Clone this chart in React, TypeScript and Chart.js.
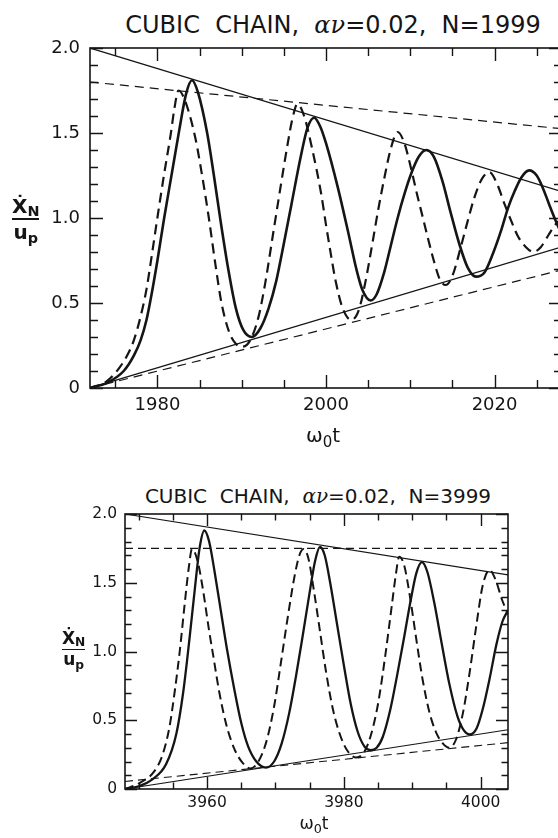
import React, { useEffect, useRef } from "react";
import { Chart, registerables } from "chart.js";
Chart.register(...registerables);

// ---------- Top panel: N = 1999 ----------
const topSolidT = [1972, 1974, 1976, 1977.2, 1978.0, 1978.7, 1979.3, 1980.0, 1980.8, 1981.7, 1982.6, 1983.4, 1984.1, 1984.8, 1985.9, 1986.7, 1987.5, 1988.4, 1989.3, 1990.2, 1991.2, 1992.2, 1993.2, 1994.1, 1995.0, 1995.9, 1997.0, 1997.8, 1998.6, 1999.3, 2000.0, 2001.4, 2002.75, 2003.6, 2004.3, 2005.3, 2006.0, 2006.9, 2007.7, 2008.5, 2009.3, 2010.1, 2011.0, 2011.9, 2012.8, 2013.8, 2014.8, 2015.8, 2016.8, 2017.8, 2018.8, 2019.8, 2020.8, 2021.6, 2022.4, 2023.2, 2024.1, 2025.0, 2025.7, 2026.4, 2027.2, 2028];
const topSolidV = [0, 0.03, 0.1, 0.19, 0.28, 0.4, 0.55, 0.75, 1.0, 1.26, 1.52, 1.73, 1.81, 1.74, 1.5, 1.25, 0.98, 0.7, 0.47, 0.34, 0.3, 0.35, 0.47, 0.63, 0.85, 1.08, 1.36, 1.53, 1.59, 1.54, 1.44, 1.18, 0.89, 0.7, 0.58, 0.515, 0.55, 0.68, 0.84, 1.0, 1.14, 1.26, 1.36, 1.40, 1.36, 1.22, 1.03, 0.85, 0.71, 0.655, 0.68, 0.79, 0.93, 1.06, 1.16, 1.24, 1.28, 1.25, 1.18, 1.09, 0.99, 0.90];
const topDashT = [1972, 1974, 1975.5, 1976.5, 1977.2, 1978.0, 1978.7, 1979.3, 1979.9, 1980.8, 1981.6, 1982.0, 1982.5, 1983.2, 1984.5, 1985.3, 1986.1, 1986.9, 1987.6, 1988.5, 1989.3, 1990.1, 1991.0, 1992.0, 1992.8, 1993.7, 1994.6, 1995.5, 1996.0, 1996.6, 1997.4, 1998.3, 1999.4, 2000.0, 2000.6, 2001.1, 2001.9, 2003.0, 2003.9, 2004.7, 2005.5, 2006.2, 2006.9, 2007.7, 2008.5, 2009.3, 2010.1, 2010.8, 2011.5, 2012.2, 2012.9, 2013.5, 2014.2, 2015.0, 2016.05, 2016.8, 2017.6, 2018.5, 2019.4, 2020.3, 2021.2, 2022.0, 2022.8, 2023.7, 2024.6, 2025.5, 2026.4, 2027.2, 2028];
const topDashV = [0, 0.04, 0.12, 0.2, 0.28, 0.42, 0.58, 0.77, 0.97, 1.26, 1.5, 1.64, 1.75, 1.7, 1.47, 1.25, 1.0, 0.72, 0.5, 0.33, 0.26, 0.243, 0.28, 0.42, 0.62, 0.9, 1.18, 1.45, 1.58, 1.67, 1.6, 1.42, 1.15, 0.96, 0.78, 0.64, 0.48, 0.40, 0.46, 0.63, 0.85, 1.05, 1.23, 1.41, 1.506, 1.44, 1.29, 1.14, 1.0, 0.86, 0.73, 0.64, 0.606, 0.66, 0.84, 0.98, 1.12, 1.23, 1.27, 1.2, 1.08, 0.98, 0.89, 0.83, 0.80, 0.83, 0.9, 0.96, 1.0];
const topEnvT = [1972, 2028];
const topUpperSolidV = [2.0, 1.155];
const topLowerSolidV = [0.0, 0.83];
const topUpperDashV = [1.8, 1.525];
const topLowerDashV = [0.0, 0.695];
const topXTicks = [1980, 2000, 2020];
const topXRange = [1972, 2028];

// ---------- Bottom panel: N = 3999 ----------
const botSolidT = [3948, 3950, 3952, 3954, 3955.5, 3956.5, 3957.4, 3958.2, 3958.9, 3959.6, 3960.3, 3961.1, 3962.0, 3962.9, 3964.0, 3965.0, 3966.0, 3967.2, 3968.6, 3969.8, 3970.9, 3972.0, 3973.0, 3974.0, 3975.0, 3975.8, 3976.5, 3977.2, 3978.0, 3979.0, 3980.0, 3981.0, 3982.0, 3983.0, 3983.9, 3984.8, 3985.7, 3986.8, 3987.8, 3988.8, 3989.8, 3990.6, 3991.4, 3992.2, 3993.2, 3994.3, 3995.4, 3996.6, 3997.5, 3998.4, 3999.4, 4000.3, 4001.3, 4002.3, 4003.2, 4004];
const botSolidV = [0, 0.02, 0.07, 0.18, 0.4, 0.7, 1.08, 1.45, 1.75, 1.88, 1.80, 1.58, 1.30, 1.02, 0.72, 0.48, 0.31, 0.2, 0.156, 0.2, 0.33, 0.55, 0.82, 1.12, 1.43, 1.66, 1.76, 1.70, 1.50, 1.20, 0.90, 0.62, 0.42, 0.31, 0.282, 0.30, 0.38, 0.58, 0.83, 1.1, 1.38, 1.57, 1.65, 1.58, 1.36, 1.06, 0.77, 0.53, 0.43, 0.397, 0.44, 0.58, 0.8, 1.05, 1.22, 1.30];
const botDashT = [3948, 3950, 3952.3, 3953.5, 3954.5, 3955.3, 3956.0, 3956.8, 3957.3, 3957.8, 3958.6, 3959.4, 3960.3, 3960.9, 3961.8, 3962.8, 3964.0, 3965.2, 3966.3, 3967.5, 3968.7, 3969.8, 3970.8, 3971.8, 3972.8, 3973.5, 3974.1, 3974.8, 3975.6, 3976.5, 3977.4, 3978.4, 3979.4, 3980.5, 3981.8, 3983.0, 3984.0, 3985.0, 3986.0, 3987.0, 3987.6, 3988.1, 3988.8, 3989.6, 3990.5, 3991.5, 3992.5, 3993.5, 3994.5, 3995.4, 3996.4, 3997.4, 3998.4, 3999.4, 4000.3, 4001.3, 4002.2, 4003.1, 4004];
const botDashV = [0, 0.04, 0.13, 0.25, 0.45, 0.72, 1.0, 1.38, 1.6, 1.745, 1.66, 1.45, 1.15, 0.97, 0.7, 0.47, 0.29, 0.19, 0.149, 0.2, 0.35, 0.6, 0.92, 1.25, 1.55, 1.70, 1.745, 1.68, 1.45, 1.15, 0.85, 0.58, 0.4, 0.28, 0.229, 0.27, 0.4, 0.62, 0.95, 1.33, 1.56, 1.69, 1.63, 1.42, 1.12, 0.8, 0.56, 0.41, 0.33, 0.30, 0.36, 0.55, 0.85, 1.2, 1.48, 1.593, 1.52, 1.38, 1.27];
const botEnvT = [3948, 4004];
const botUpperSolidV = [2.0, 1.557];
const botLowerSolidV = [0.0, 0.431];
const botUpperDashV = [1.75, 1.75];
const botLowerDashV = [0.055, 0.337];
const botXTicks = [3960, 3980, 4000];
const botXRange = [3948, 4004];

// ---------- shared axis ticks ----------
const yTickValues = [0, 0.5, 1.0, 1.5, 2.0];
const yTickLabels = ["0", "0.5", "1.0", "1.5", "2.0"];
const yRange = [0, 2];

const INK = "#151515";
const FONT = "'DejaVu Sans', 'Liberation Sans', sans-serif";

const pts = (xs: number[], ys: number[]) => xs.map((x, i) => ({ x, y: ys[i] }));

const framePlugin = {
  id: "frame",
  afterDatasetsDraw(chart: any, _a: any, opts: any) {
    const { ctx, chartArea: a } = chart;
    const xs = chart.scales.x;
    const ys = chart.scales.y;
    ctx.save();
    ctx.strokeStyle = INK;
    ctx.lineWidth = opts.frameWidth;
    ctx.strokeRect(a.left, a.top, a.right - a.left, a.bottom - a.top);
    ctx.lineWidth = opts.tickWidth;
    ctx.beginPath();
    const nY = Math.round((ys.max - ys.min) / opts.yMinor);
    for (let i = 0; i <= nY; i++) {
      const v = ys.min + i * opts.yMinor;
      const major = Math.abs(v / opts.yMajor - Math.round(v / opts.yMajor)) < 1e-6;
      const len = major ? opts.majorLen : opts.minorLen;
      const py = Math.round(ys.getPixelForValue(v)) + 0.5;
      ctx.moveTo(a.left, py);
      ctx.lineTo(a.left + len, py);
      ctx.moveTo(a.right, py);
      ctx.lineTo(a.right - len, py);
    }
    const start = Math.ceil(xs.min / opts.xMinor) * opts.xMinor;
    for (let v = start; v <= xs.max + 1e-9; v += opts.xMinor) {
      const major = Math.abs(v / opts.xMajor - Math.round(v / opts.xMajor)) < 1e-6;
      const len = major ? opts.majorLen : opts.minorLen;
      const px = Math.round(xs.getPixelForValue(v)) + 0.5;
      ctx.moveTo(px, a.bottom);
      ctx.lineTo(px, a.bottom - len);
      ctx.moveTo(px, a.top);
      ctx.lineTo(px, a.top + len);
    }
    ctx.stroke();
    ctx.restore();
  },
};

interface PanelSpec {
  solidT: number[]; solidV: number[];
  dashT: number[]; dashV: number[];
  envT: number[];
  upperSolid: number[]; lowerSolid: number[];
  upperDash: number[]; lowerDash: number[];
  xTicks: number[]; xRange: number[];
  padTop: number; padRight: number;
  yAxisWidth: number; xAxisHeight: number;
  tickFont: number; yPad: number; xPad: number;
  majorLen: number; minorLen: number;
  curveWidth: number; dashWidth: number; envWidth: number;
  dash: number[]; envDash: number[];
}

function Panel({ spec, left, top, width, height }: { spec: PanelSpec; left: number; top: number; width: number; height: number }) {
  const ref = useRef<HTMLCanvasElement | null>(null);
  useEffect(() => {
    const s = spec;
    const line = (data: any, w: number, dash: number[] | undefined, smooth: boolean) => ({
      data,
      borderColor: INK,
      borderWidth: w,
      borderDash: dash || [],
      pointRadius: 0,
      fill: false,
      tension: 0,
      cubicInterpolationMode: smooth ? "monotone" : "default",
      borderCapStyle: "butt",
      borderJoinStyle: "round",
    });
    const chart = new Chart(ref.current as HTMLCanvasElement, {
      type: "line",
      data: {
        datasets: [
          line(pts(s.envT, s.upperSolid), s.envWidth, undefined, false),
          line(pts(s.envT, s.lowerSolid), s.envWidth, undefined, false),
          line(pts(s.envT, s.upperDash), s.envWidth, s.envDash, false),
          line(pts(s.envT, s.lowerDash), s.envWidth, s.envDash, false),
          line(pts(s.dashT, s.dashV), s.dashWidth, s.dash, true),
          line(pts(s.solidT, s.solidV), s.curveWidth, undefined, true),
        ] as any,
      },
      options: {
        responsive: false,
        animation: false,
        events: [],
        layout: { padding: { top: s.padTop, right: s.padRight, left: 0, bottom: 0 } },
        plugins: {
          legend: { display: false },
          tooltip: { enabled: false },
          title: { display: false },
          frame: {
            frameWidth: 1.6, tickWidth: 1.4,
            yMinor: 0.1, yMajor: 0.5, xMinor: 5, xMajor: 20,
            majorLen: s.majorLen, minorLen: s.minorLen,
          },
        } as any,
        scales: {
          x: {
            type: "linear",
            min: s.xRange[0],
            max: s.xRange[1],
            afterFit: (sc: any) => { sc.height = s.xAxisHeight; },
            afterBuildTicks: (sc: any) => { sc.ticks = s.xTicks.map((v) => ({ value: v })); },
            grid: { display: false, drawTicks: false },
            border: { display: false },
            ticks: {
              autoSkip: false, maxRotation: 0, padding: s.xPad, color: INK,
              font: { family: FONT, size: s.tickFont },
              callback: (v: any) => String(v),
            },
          },
          y: {
            type: "linear",
            min: yRange[0],
            max: yRange[1],
            afterFit: (sc: any) => { sc.width = s.yAxisWidth; },
            afterBuildTicks: (sc: any) => { sc.ticks = yTickValues.map((v) => ({ value: v })); },
            grid: { display: false, drawTicks: false },
            border: { display: false },
            ticks: {
              padding: s.yPad, color: INK,
              font: { family: FONT, size: s.tickFont },
              callback: (v: any) => {
                const i = yTickValues.findIndex((t) => Math.abs(t - Number(v)) < 1e-9);
                return i >= 0 ? yTickLabels[i] : "";
              },
            },
          },
        },
      } as any,
      plugins: [framePlugin as any],
    });
    return () => chart.destroy();
  }, []);
  return (
    <canvas
      ref={ref}
      width={width}
      height={height}
      style={{ position: "absolute", left, top, width, height }}
    />
  );
}

function Frac({ left, top, size }: { left: number; top: number; size: number }) {
  return (
    <div style={{ position: "absolute", left, top, fontFamily: FONT, fontWeight: "bold", color: INK, lineHeight: 1, textAlign: "center" }}>
      <div style={{ fontSize: size, paddingBottom: size * 0.12, whiteSpace: "nowrap" }}>
        Ẋ<span style={{ fontSize: size * 0.72, position: "relative", top: size * 0.14 }}>N</span>
      </div>
      <div style={{ borderTop: `${Math.max(1.5, size * 0.1)}px solid ${INK}`, paddingTop: size * 0.08, fontSize: size, whiteSpace: "nowrap" }}>
        u<span style={{ fontSize: size * 0.72, position: "relative", top: size * 0.2 }}>p</span>
      </div>
    </div>
  );
}

function Title({ cx, top, size, n }: { cx: number; top: number; size: number; n: string }) {
  return (
    <div style={{ position: "absolute", left: cx, top, transform: "translateX(-50%)", fontFamily: FONT, fontSize: size, lineHeight: 1, color: INK, whiteSpace: "nowrap" }}>
      CUBIC&nbsp; CHAIN,&nbsp; <i style={{ fontFamily: "'DejaVu Serif', serif" }}>αν</i>=0.02,&nbsp; N=<span>{n}</span>
    </div>
  );
}

function XTitle({ cx, top, size }: { cx: number; top: number; size: number }) {
  return (
    <div style={{ position: "absolute", left: cx, top, transform: "translateX(-50%)", fontFamily: FONT, fontSize: size, lineHeight: 1, color: INK, whiteSpace: "nowrap" }}>
      ω<span style={{ fontSize: size * 0.75, position: "relative", top: size * 0.25 }}>0</span>t
    </div>
  );
}

const topSpec: PanelSpec = {
  solidT: topSolidT, solidV: topSolidV, dashT: topDashT, dashV: topDashV,
  envT: topEnvT, upperSolid: topUpperSolidV, lowerSolid: topLowerSolidV,
  upperDash: topUpperDashV, lowerDash: topLowerDashV,
  xTicks: topXTicks, xRange: topXRange,
  padTop: 48, padRight: 8, yAxisWidth: 90, xAxisHeight: 72,
  tickFont: 18, yPad: 10, xPad: 7,
  majorLen: 13, minorLen: 8,
  curveWidth: 2.6, dashWidth: 2.2, envWidth: 1.2,
  dash: [10, 6], envDash: [9, 6],
};

const botSpec: PanelSpec = {
  solidT: botSolidT, solidV: botSolidV, dashT: botDashT, dashV: botDashV,
  envT: botEnvT, upperSolid: botUpperSolidV, lowerSolid: botLowerSolidV,
  upperDash: botUpperDashV, lowerDash: botLowerDashV,
  xTicks: botXTicks, xRange: botXRange,
  padTop: 54, padRight: 50, yAxisWidth: 125, xAxisHeight: 49,
  tickFont: 15.5, yPad: 8, xPad: 5,
  majorLen: 12, minorLen: 6.5,
  curveWidth: 2.3, dashWidth: 2.0, envWidth: 1.1,
  dash: [9, 5], envDash: [8, 5],
};

export default function App() {
  return (
    <div style={{ position: "absolute", left: 0, top: 0, width: 558, height: 838, overflow: "hidden", background: "#fff" }}>
      <Title cx={333} top={13} size={24} n="1999" />
      <Panel spec={topSpec} left={0} top={0} width={570} height={460} />
      <Frac left={12} top={196} size={20} />
      <XTitle cx={323} top={425} size={20} />

      <Title cx={318} top={486} size={20} n="3999" />
      <Panel spec={botSpec} left={0} top={460} width={558} height={378} />
      <Frac left={62} top={630} size={17} />
      <XTitle cx={314} top={815} size={17} />
    </div>
  );
}
